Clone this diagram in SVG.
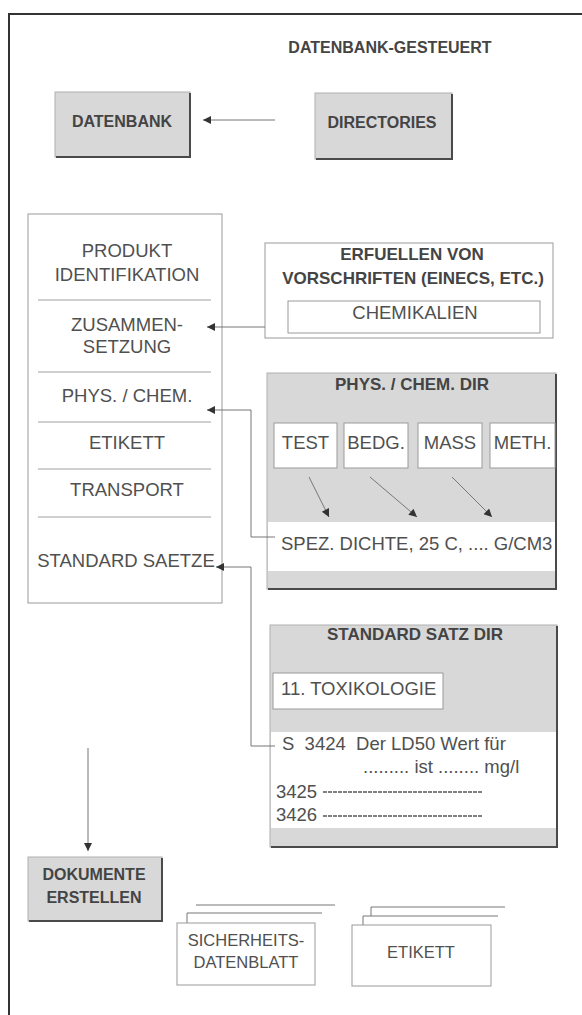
<svg xmlns="http://www.w3.org/2000/svg" width="582" height="1015" viewBox="0 0 582 1015">
<style>
.t{font-family:"Liberation Sans",Arial,sans-serif;fill:#505050;font-size:18.5px}
.c{text-anchor:middle}
.b{font-weight:bold;fill:#444;font-size:17px}
.b16{font-size:16px}
.s16{font-size:16.5px}
.gray{fill:#d8d8d8;stroke:#b0b0b0;stroke-width:1}
.sh{fill:none;stroke:#4a4a4a;stroke-width:2}
.wb{fill:#fff;stroke:#9a9a9a;stroke-width:1}
.band{fill:#fff;stroke:none}
.conn{fill:none;stroke:#777;stroke-width:1}
.sep{stroke:#a0a0a0;stroke-width:1}
.dash{stroke:#555;stroke-width:1.5;stroke-dasharray:4 1}
</style>
<defs>
<marker id="ah" viewBox="0 0 10 10" refX="10" refY="5" markerWidth="11" markerHeight="8" markerUnits="userSpaceOnUse" orient="auto">
<path d="M0,0 L10,5 L0,10 z" fill="#333"/>
</marker>
</defs>
<rect width="582" height="1015" fill="#fff"/>
<g id="frame">
<line x1="9" y1="14" x2="582" y2="14" stroke="#333" stroke-width="2"/>
<line x1="9" y1="13" x2="9" y2="1015" stroke="#333" stroke-width="2"/>
</g>
<g id="title"><text class="t b b16 c" x="390" y="53">DATENBANK-GESTEUERT</text></g>
<g id="datenbank">
<rect class="gray" x="55" y="92" width="135" height="65"/>
<polyline class="sh" points="56,157 190,157 190,93"/>
<text class="t b b16 c" x="122" y="127">DATENBANK</text>
</g>
<g id="directories">
<rect class="gray" x="315" y="93" width="137" height="66"/>
<polyline class="sh" points="316,159 452,159 452,94"/>
<text class="t b b16 c" x="382" y="128">DIRECTORIES</text>
</g>
<g id="liste">
<rect class="wb" x="28" y="214" width="194" height="389"/>
<line class="sep" x1="38" y1="300" x2="211" y2="300"/>
<line class="sep" x1="38" y1="372" x2="211" y2="372"/>
<line class="sep" x1="38" y1="422" x2="211" y2="422"/>
<line class="sep" x1="38" y1="469" x2="211" y2="469"/>
<line class="sep" x1="38" y1="517" x2="211" y2="517"/>
<text class="t c" x="127" y="257">PRODUKT</text>
<text class="t c" x="127" y="281">IDENTIFIKATION</text>
<text class="t c" x="127" y="331">ZUSAMMEN-</text>
<text class="t c" x="127" y="353">SETZUNG</text>
<text class="t c" x="127" y="402">PHYS. / CHEM.</text>
<text class="t c" x="127" y="449">ETIKETT</text>
<text class="t c" x="127" y="496">TRANSPORT</text>
<text class="t c" x="126" y="567">STANDARD SAETZE</text>
</g>
<g id="vorschriften">
<rect class="wb" x="265" y="243" width="288" height="95"/>
<text class="t b c" x="412" y="260">ERFUELLEN VON</text>
<text class="t b c" x="413" y="284">VORSCHRIFTEN (EINECS, ETC.)</text>
<rect class="wb" x="288" y="301" width="252" height="32"/>
<text class="t c" x="415" y="319">CHEMIKALIEN</text>
</g>
<g id="physchemdir">
<rect class="gray" x="267" y="373" width="289" height="216"/>
<rect class="band" x="268" y="522" width="287" height="49"/>
<polyline class="sh" points="268,589 556,589 556,374"/>
<text class="t b c" x="412" y="390">PHYS. / CHEM. DIR</text>
<rect class="wb" x="274" y="423" width="63" height="45"/>
<rect class="wb" x="344" y="423" width="64" height="45"/>
<rect class="wb" x="418" y="423" width="64" height="45"/>
<rect class="wb" x="490" y="423" width="65" height="45"/>
<text class="t c" x="305.5" y="449">TEST</text>
<text class="t c" x="376" y="449">BEDG.</text>
<text class="t c" x="450" y="449">MASS</text>
<text class="t c" x="522.5" y="449">METH.</text>
<text class="t" x="281" y="550">SPEZ. DICHTE, 25 C, .... G/CM3</text>
</g>
<g id="standardsatzdir">
<rect class="gray" x="270" y="625" width="287" height="222"/>
<rect class="band" x="271" y="732" width="285" height="96"/>
<polyline class="sh" points="271,847 557,847 557,626"/>
<text class="t b c" x="415" y="640">STANDARD SATZ DIR</text>
<rect class="wb" x="273" y="673" width="170" height="36"/>
<text class="t" x="281" y="695">11. TOXIKOLOGIE</text>
<text class="t" x="282" y="750" xml:space="preserve">S  3424  Der LD50 Wert für</text>
<text class="t" x="363" y="773">......... ist ........ mg/l</text>
<text class="t" x="276" y="798">3425</text>
<line class="dash" x1="323" y1="792" x2="482" y2="792"/>
<text class="t" x="276" y="821">3426</text>
<line class="dash" x1="323" y1="816" x2="482" y2="816"/>
</g>
<g id="dokumente">
<rect class="gray" x="28" y="857" width="134" height="64"/>
<polyline class="sh" points="29,921 162,921 162,858"/>
<text class="t b b16 c" x="94" y="880">DOKUMENTE</text>
<text class="t b b16 c" x="94" y="903">ERSTELLEN</text>
</g>
<g id="sicherheitsdatenblatt">
<polyline class="conn" points="196,905 335,905"/>
<polyline class="conn" points="187,923 187,913 322,913"/>
<rect class="wb" x="177" y="923" width="138" height="62"/>
<text class="t s16 c" x="246" y="946">SICHERHEITS-</text>
<text class="t s16 c" x="246" y="968">DATENBLATT</text>
</g>
<g id="etikett">
<polyline class="conn" points="371,916 371,907 505,907"/>
<polyline class="conn" points="363,925 363,916 498,916"/>
<rect class="wb" x="352" y="925" width="139" height="61"/>
<text class="t s16 c" x="421" y="958">ETIKETT</text>
</g>
<g id="connectors">
<line class="conn" x1="275" y1="120" x2="203" y2="120" marker-end="url(#ah)"/>
<line class="conn" x1="265" y1="327" x2="207" y2="327" marker-end="url(#ah)"/>
<polyline class="conn" points="275,537 251,537 251,410 207,410" marker-end="url(#ah)"/>
<polyline class="conn" points="275,746 251,746 251,567 216,567" marker-end="url(#ah)"/>
<line class="conn" x1="309" y1="477" x2="329" y2="517" marker-end="url(#ah)"/>
<line class="conn" x1="370" y1="477" x2="417" y2="517" marker-end="url(#ah)"/>
<line class="conn" x1="452" y1="477" x2="492" y2="517" marker-end="url(#ah)"/>
<line class="conn" x1="88" y1="748" x2="88" y2="851" marker-end="url(#ah)"/>
</g>
</svg>
